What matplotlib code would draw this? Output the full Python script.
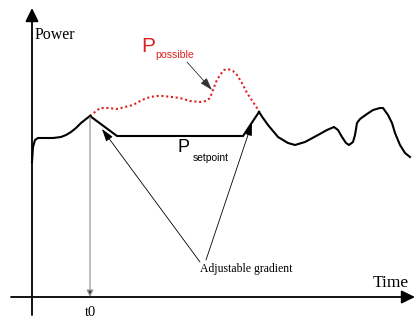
import matplotlib
matplotlib.use('Agg')
import matplotlib.pyplot as plt

# curve values (time, power from the axes origin)
rise_t = [0, 1, 3, 6, 13, 21, 29, 34, 39, 44, 49, 54, 58]
rise_p = [135, 150, 157, 159, 159, 159, 160, 162, 165, 169, 174, 178, 181]

setpoint_t = [58, 85, 211, 227]
setpoint_p = [181, 161, 161, 185]

tail_t = [227, 231, 236, 241, 246, 251, 256, 263, 273, 286, 295, 302, 306,
          310, 314, 317, 321, 323, 325, 328, 335, 341, 348, 351, 356, 360,
          363, 368, 373, 378]
tail_p = [185, 179, 172, 166, 160, 157, 154, 152, 155, 162, 167, 170, 167,
          160, 154, 152, 155, 162, 174, 178, 183, 187, 189, 189, 182, 174,
          164, 152, 144, 140]

possible_t = [58, 63, 68, 76, 85, 93, 101, 110, 118, 125, 131, 140, 148, 158,
              168, 174, 178, 181, 184, 188, 192, 196, 201, 205, 210, 215, 221, 227]
possible_p = [181, 185, 189, 189, 188, 190, 192, 197, 200, 201, 201, 200, 199, 196,
              195, 196, 199, 207, 215, 222, 227, 228, 226, 222, 214, 204, 195, 186]

t0 = 58

# figure in pixel-like units
fig = plt.figure(figsize=(4.15, 3.21), dpi=100)
ax = fig.add_axes([0, 0, 1, 1])
ax.set_xlim(-32, 383)
ax.set_ylim(-24, 297)
ax.axis('off')

serif = ['Liberation Serif', 'DejaVu Serif']
sans = ['Liberation Sans', 'DejaVu Sans']

# axes with arrows
axis_arrow = dict(arrowstyle='-|>,head_length=0.45,head_width=0.22', lw=1.3,
                  color='black', shrinkA=0, shrinkB=0, mutation_scale=18)
ax.annotate('', xy=(0, 289), xytext=(0, -18), arrowprops=axis_arrow)
ax.annotate('', xy=(383, 0), xytext=(-21, 0), arrowprops=axis_arrow)

# t0 marker
ax.annotate('', xy=(t0, 0), xytext=(t0, 180),
            arrowprops=dict(arrowstyle='-|>,head_length=0.5,head_width=0.25',
                            lw=0.9, color='#999999', ec='#999999', fc='#333333',
                            shrinkA=0, shrinkB=0, mutation_scale=8))

# curves
ax.plot(possible_t, possible_p, color='#e0211f', lw=1.5, ls=(0, (1, 1.3)),
        solid_capstyle='round')
ax.plot(rise_t, rise_p, color='black', lw=1.5, solid_joinstyle='round')
ax.plot(setpoint_t, setpoint_p, color='black', lw=1.5, solid_joinstyle='miter')
ax.plot(tail_t, tail_p, color='black', lw=1.5, solid_joinstyle='round')

# annotation arrows
thin_arrow = dict(arrowstyle='-|>,head_length=0.7,head_width=0.22', lw=0.6,
                  color='black', shrinkA=0, shrinkB=0, mutation_scale=11)
ax.annotate('', xy=(70, 168), xytext=(168, 35), arrowprops=thin_arrow)
ax.annotate('', xy=(220, 174), xytext=(174, 37), arrowprops=thin_arrow)
ax.annotate('', xy=(180, 207), xytext=(155, 235),
            arrowprops=dict(thin_arrow, color='#333333'))

# labels
ax.text(3, 262, 'Power', family=serif, fontsize=11.5, va='center', ha='left')
ax.text(377, 14, 'Time', family=serif, fontsize=12.5, va='center', ha='right')
ax.text(t0, -15, 't0', family=serif, fontsize=10.5, va='center', ha='center')
ax.text(168, 28, 'Adjustable gradient', family=serif, fontsize=8.5,
        va='center', ha='left')
ax.text(109, 250, 'P', family=sans, fontsize=15, color='#e0211f',
        va='center', ha='left')
ax.text(123, 242, 'possible', family=sans, fontsize=7.6, color='#e0211f',
        va='center', ha='left')
ax.text(145, 149, 'P', family=sans, fontsize=13, color='black',
        va='center', ha='left')
ax.text(161, 139, 'setpoint', family=sans, fontsize=7.4, color='black',
        va='center', ha='left')

fig.savefig('out.png', dpi=100)
